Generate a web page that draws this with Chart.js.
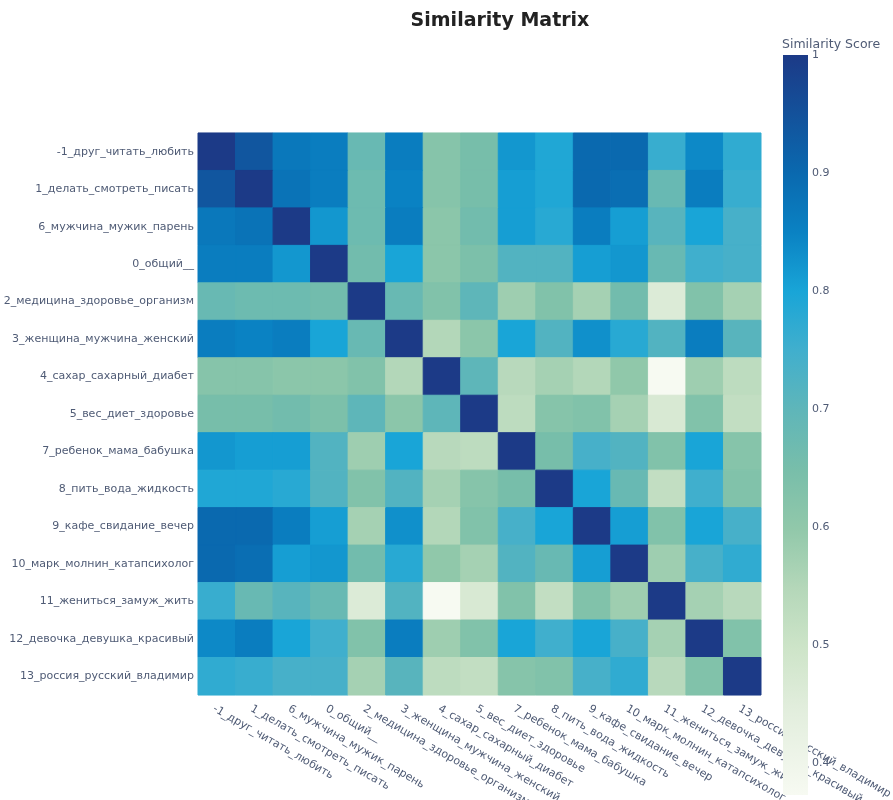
<!DOCTYPE html>
<html>
<head>
<meta charset="utf-8">
<title>Similarity Matrix</title>
<script src="https://cdn.jsdelivr.net/npm/chart.js@4.4.1/dist/chart.umd.min.js"></script>
<style>
  html, body { margin: 0; padding: 0; background: #fff; }
  #wrap { width: 893px; height: 800px; }
</style>
</head>
<body>
<div id="wrap"><canvas id="chartSimilarity" width="893" height="800"></canvas></div>
<script>
// Tópicos (mesma ordem nas linhas e colunas)
const topics = [
    '-1_друг_читать_любить',
    '1_делать_смотреть_писать',
    '6_мужчина_мужик_парень',
    '0_общий__',
    '2_медицина_здоровье_организм',
    '3_женщина_мужчина_женский',
    '4_сахар_сахарный_диабет',
    '5_вес_диет_здоровье',
    '7_ребенок_мама_бабушка',
    '8_пить_вода_жидкость',
    '9_кафе_свидание_вечер',
    '10_марк_молнин_катапсихолог',
    '11_жениться_замуж_жить',
    '12_девочка_девушка_красивый',
    '13_россия_русский_владимир'
];

// Similaridade (linha = tópico do eixo y, coluna = tópico do eixo x)
const similarity = [
    [1.00, 0.94, 0.87, 0.86, 0.68, 0.86, 0.62, 0.65, 0.82, 0.79, 0.90, 0.90, 0.76, 0.84, 0.77],
    [0.94, 1.00, 0.88, 0.86, 0.67, 0.85, 0.62, 0.65, 0.81, 0.79, 0.90, 0.89, 0.68, 0.86, 0.76],
    [0.87, 0.88, 1.00, 0.82, 0.67, 0.86, 0.61, 0.66, 0.81, 0.78, 0.86, 0.81, 0.71, 0.80, 0.74],
    [0.86, 0.86, 0.82, 1.00, 0.66, 0.80, 0.61, 0.64, 0.72, 0.72, 0.81, 0.82, 0.68, 0.75, 0.74],
    [0.68, 0.67, 0.67, 0.66, 1.00, 0.68, 0.63, 0.70, 0.58, 0.63, 0.57, 0.66, 0.46, 0.63, 0.57],
    [0.86, 0.85, 0.86, 0.80, 0.68, 1.00, 0.55, 0.61, 0.80, 0.72, 0.83, 0.78, 0.72, 0.86, 0.71],
    [0.62, 0.62, 0.61, 0.61, 0.63, 0.55, 1.00, 0.70, 0.54, 0.57, 0.55, 0.60, 0.373, 0.58, 0.53],
    [0.65, 0.65, 0.66, 0.64, 0.70, 0.61, 0.70, 1.00, 0.53, 0.62, 0.63, 0.57, 0.47, 0.63, 0.52],
    [0.82, 0.81, 0.81, 0.72, 0.58, 0.80, 0.54, 0.53, 1.00, 0.65, 0.74, 0.72, 0.63, 0.80, 0.62],
    [0.79, 0.79, 0.78, 0.72, 0.63, 0.72, 0.57, 0.62, 0.65, 1.00, 0.80, 0.68, 0.52, 0.75, 0.63],
    [0.90, 0.90, 0.86, 0.81, 0.57, 0.83, 0.55, 0.63, 0.74, 0.80, 1.00, 0.81, 0.63, 0.80, 0.74],
    [0.90, 0.89, 0.81, 0.82, 0.66, 0.78, 0.60, 0.57, 0.72, 0.68, 0.81, 1.00, 0.58, 0.74, 0.77],
    [0.76, 0.68, 0.71, 0.68, 0.46, 0.72, 0.373, 0.47, 0.63, 0.52, 0.63, 0.58, 1.00, 0.57, 0.54],
    [0.84, 0.86, 0.80, 0.75, 0.63, 0.86, 0.58, 0.63, 0.80, 0.75, 0.80, 0.74, 0.57, 1.00, 0.63],
    [0.77, 0.76, 0.74, 0.74, 0.57, 0.71, 0.53, 0.52, 0.62, 0.63, 0.74, 0.77, 0.54, 0.63, 1.00]
];

// Marcas da barra de cores
const scoreTicks = [0.4, 0.5, 0.6, 0.7, 0.8, 0.9, 1];

const scoreMin = Math.min(...similarity.flat());
const scoreMax = Math.max(...similarity.flat());

// Escala de cores (posição normalizada -> rgb)
const colorStops = [
    [0.00, [247, 250, 242]],
    [0.12, [225, 237, 220]],
    [0.20, [205, 228, 200]],
    [0.28, [180, 215, 185]],
    [0.36, [145, 200, 170]],
    [0.44, [120, 190, 170]],
    [0.52, [95, 182, 185]],
    [0.60, [65, 175, 205]],
    [0.68, [25, 165, 215]],
    [0.76, [10, 130, 195]],
    [0.84, [10, 105, 175]],
    [1.00, [28, 58, 135]]
];

const textColor = '#4f5b75';
const fontFamily = '"DejaVu Sans", Verdana, sans-serif';

function colorFor(v) {
    const t = Math.max(0, Math.min(1, (v - scoreMin) / (scoreMax - scoreMin)));
    for (let i = 1; i < colorStops.length; i++) {
        const [p1, c1] = colorStops[i];
        const [p0, c0] = colorStops[i - 1];
        if (t <= p1) {
            const f = (t - p0) / (p1 - p0);
            const c = c0.map((a, k) => Math.round(a + (c1[k] - a) * f));
            return `rgb(${c[0]},${c[1]},${c[2]})`;
        }
    }
    const c = colorStops[colorStops.length - 1][1];
    return `rgb(${c[0]},${c[1]},${c[2]})`;
}

// Pontos da matriz
const cells = [];
similarity.forEach((row, r) => {
    row.forEach((v, c) => {
        cells.push({ x: topics[c], y: topics[r], v: v });
    });
});

function cellRadius(c) {
    const a = c.chart.chartArea;
    if (!a) return 0;
    return (a.right - a.left) / topics.length / Math.SQRT2;
}

// Título, rótulos inclinados do eixo x e barra de cores
const heatmapExtras = {
    id: 'heatmapExtras',
    afterDraw(chart) {
        const ctx = chart.ctx;
        const xScale = chart.scales.x;
        const area = chart.chartArea;
        ctx.save();

        ctx.font = 'bold 19px ' + fontFamily;
        ctx.fillStyle = '#222';
        ctx.textAlign = 'center';
        ctx.textBaseline = 'middle';
        ctx.fillText('Similarity Matrix', 500, 21);

        ctx.font = '11px ' + fontFamily;
        ctx.fillStyle = textColor;
        ctx.textAlign = 'left';
        topics.forEach((t, i) => {
            const x = xScale.getPixelForValue(i);
            ctx.save();
            ctx.translate(x - 3, area.bottom + 13);
            ctx.rotate(30 * Math.PI / 180);
            ctx.fillText(t, 0, 0);
            ctx.restore();
        });

        // barra de cores
        const barLeft = 783, barWidth = 25, barTop = 55, barBottom = 795;
        const grad = ctx.createLinearGradient(0, barBottom, 0, barTop);
        colorStops.forEach(([p, c]) => grad.addColorStop(p, `rgb(${c[0]},${c[1]},${c[2]})`));
        ctx.fillStyle = grad;
        ctx.fillRect(barLeft, barTop, barWidth, barBottom - barTop);

        ctx.fillStyle = textColor;
        ctx.font = '11px ' + fontFamily;
        ctx.textAlign = 'left';
        ctx.textBaseline = 'middle';
        scoreTicks.forEach(v => {
            const y = barBottom - (v - scoreMin) / (scoreMax - scoreMin) * (barBottom - barTop);
            ctx.fillText(String(v), barLeft + barWidth + 4, y);
        });

        ctx.font = '12.5px ' + fontFamily;
        ctx.textBaseline = 'alphabetic';
        ctx.fillText('Similarity Score', 782, 48);

        ctx.restore();
    }
};

const ctx = document.getElementById('chartSimilarity').getContext('2d');

new Chart(ctx, {
    type: 'scatter',
    data: {
        datasets: [{
            data: cells,
            pointStyle: 'rect',
            pointRadius: cellRadius,
            pointHoverRadius: cellRadius,
            pointBackgroundColor: (c) => colorFor(c.raw.v),
            pointBorderColor: (c) => colorFor(c.raw.v),
            pointBorderWidth: 1
        }]
    },
    options: {
        responsive: false,
        animation: false,
        layout: {
            padding: { left: 0, right: 132, top: 133, bottom: 0 }
        },
        plugins: {
            legend: { display: false },
            tooltip: { enabled: false },
            title: { display: false }
        },
        scales: {
            x: {
                type: 'category',
                labels: topics,
                offset: true,
                grid: { display: false, drawTicks: false },
                border: { display: false },
                ticks: { display: false },
                afterFit: (scale) => { scale.height = 105; }
            },
            y: {
                type: 'category',
                labels: topics,
                offset: true,
                grid: { display: false, drawTicks: false },
                border: { display: false },
                ticks: {
                    color: textColor,
                    font: { family: fontFamily, size: 11 },
                    padding: 4,
                    autoSkip: false
                },
                afterFit: (scale) => { scale.width = 198; }
            }
        }
    },
    plugins: [heatmapExtras]
});
</script>
</body>
</html>
